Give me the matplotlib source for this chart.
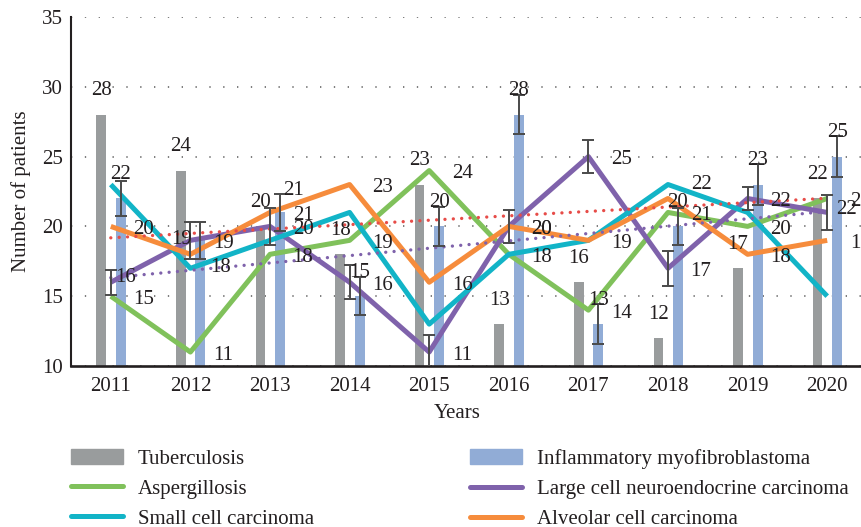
import numpy as np
import matplotlib.pyplot as plt
from matplotlib.lines import Line2D
from matplotlib.patches import Patch

plt.rcParams['font.family'] = ['Liberation Serif', 'DejaVu Serif']
plt.rcParams['font.size'] = 15

# -----------------------------
# Data
# -----------------------------
years = ['2011', '2012', '2013', '2014', '2015', '2016', '2017', '2018', '2019', '2020']

tuberculosis = [28, 24, 20, 18, 23, 13, 16, 12, 17, 22]
myofibroblastoma = [22, 19, 21, 15, 20, 28, 13, 20, 23, 25]
aspergillosis = [15, 11, 18, 19, 24, 18, 14, 21, 20, 22]
large_cell = [16, 19, 20, 16, 11, 20, 25, 17, 22, 21]
small_cell = [23, 17, 19, 21, 13, 18, 19, 23, 21, 15]
alveolar = [20, 18, 21, 23, 16, 20, 19, 22, 18, 19]

myo_err = [1.25, 1.3, 1.35, 1.35, 1.4, 1.4, 1.45, 1.35, 1.45, 1.45]
large_err = [0.9, 1.3, 1.3, 1.2, 1.25, 1.2, 1.2, 1.25, 0.8, 1.25]

large_labels = ['16', '19', '20', '16', '11', '20', '25', '17', '22', '22']

grey = '#999c9d'
blue = '#91acd6'
green = '#80c15b'
purple = '#7f62ab'
cyan = '#12b4c7'
orange = '#f68c3c'
red = '#e74c48'
err_col = '#4a4a4a'

x = np.arange(len(years))

fig = plt.figure(figsize=(8.61, 5.27), dpi=100)
ax = fig.add_axes([71 / 861, (527 - 366) / 527, (867 - 71) / 861, (366 - 17) / 527])

# bars
ax.bar(x - 0.12, tuberculosis, width=0.12, color=grey, zorder=1)
ax.bar(x + 0.125, myofibroblastoma, width=0.125, color=blue, zorder=1)

# lines
line_kw = dict(linewidth=3.6, solid_joinstyle='round', solid_capstyle='butt')
ax.plot(x, aspergillosis, color=green, zorder=3, **line_kw)
ax.plot(x, large_cell, color=purple, zorder=3, **line_kw)
ax.plot(x, small_cell, color=cyan, zorder=3, **line_kw)
ax.plot(x, alveolar, color=orange, zorder=3, **line_kw)

# linear trendlines
dot_kw = dict(linewidth=2.4, linestyle=(0, (0.01, 2.5)), dash_capstyle='round', zorder=4)
fit_myo = np.polyfit(x, myofibroblastoma, 1)
ax.plot(x, np.polyval(fit_myo, x), color=red, **dot_kw)
fit_large = np.polyfit(x, large_cell, 1)
ax.plot(x, np.polyval(fit_large, x), color=purple, **dot_kw)

# error bars
err_kw = dict(fmt='none', ecolor=err_col, elinewidth=1.4, capsize=4, capthick=1.4, zorder=5)
ax.errorbar(x + 0.125, myofibroblastoma, yerr=myo_err, **err_kw)
ax.errorbar(x, large_cell, yerr=large_err, **err_kw)

# data labels
def label(xv, yv, text, dx, dy):
    ax.annotate(text, (xv, yv), xytext=(dx, dy), textcoords='offset pixels',
                ha='center', va='center', fontsize=15, color='#231f20',
                annotation_clip=False, zorder=6)

for i in x:
    label(i - 0.12, tuberculosis[i], str(tuberculosis[i]), 0, 24)
    if i == 1:
        label(i + 0.125, myofibroblastoma[i], str(myofibroblastoma[i]), -19, 1)
    elif i == 2:
        label(i + 0.125, myofibroblastoma[i], str(myofibroblastoma[i]), 14, 22)
    else:
        label(i + 0.125, myofibroblastoma[i], str(myofibroblastoma[i]), 0, 24)
    label(i, aspergillosis[i], str(aspergillosis[i]), 33, -3)
    if i == 0:
        label(i, large_cell[i], large_labels[i], 15, 5)
    elif i == 9:
        label(i, large_cell[i], large_labels[i], 19, 3)
    else:
        label(i, large_cell[i], large_labels[i], 33, -3)
    if i == 1:
        label(i, alveolar[i], str(alveolar[i]), 30, -13)
    elif i == 7:
        label(i, alveolar[i], str(alveolar[i]), 33, 14)
    else:
        label(i, alveolar[i], str(alveolar[i]), 33, -3)

# axes styling
ax.set_xlim(-0.5, 9.5)
ax.set_ylim(10, 35)
ax.set_yticks([10, 15, 20, 25, 30, 35])
ax.set_xticks(x)
ax.set_xticklabels(years)
ax.tick_params(axis='both', length=0, labelsize=15, colors='#231f20')
ax.tick_params(axis='x', pad=8)
ax.tick_params(axis='y', pad=6)
ax.yaxis.grid(True, color='#666666', linewidth=1.2, linestyle=(0, (0.8, 7.5)))
ax.set_axisbelow(True)
for s in ['top', 'right']:
    ax.spines[s].set_visible(False)
ax.spines['left'].set_linewidth(1.5)
ax.spines['bottom'].set_linewidth(1.9)
ax.spines['left'].set_color('#231f20')
ax.spines['bottom'].set_color('#231f20')

ax.set_ylabel('Number of patients', fontsize=15, color='#231f20', labelpad=8)
fig.text(457 / 861, 1 - 414 / 527, 'Years', ha='center', va='center', fontsize=15, color='#231f20')

# legend
leg_kw = dict(frameon=False, fontsize=15, handlelength=2.5, handleheight=0.7,
              handletextpad=0.72, labelspacing=0.5, borderpad=0, borderaxespad=0,
              loc='upper left', labelcolor='#231f20')
h1 = [Patch(color=grey), Line2D([], [], color=green, linewidth=3.6, solid_capstyle='round'),
      Line2D([], [], color=cyan, linewidth=3.6, solid_capstyle='round')]
h2 = [Patch(color=blue), Line2D([], [], color=purple, linewidth=3.6, solid_capstyle='round'),
      Line2D([], [], color=orange, linewidth=3.6, solid_capstyle='round')]
fig.legend(h1, ['Tuberculosis', 'Aspergillosis', 'Small cell carcinoma'],
           bbox_to_anchor=(71 / 861, 1 - 449 / 527), **leg_kw)
fig.legend(h2, ['Inflammatory myofibroblastoma', 'Large cell neuroendocrine carcinoma',
                'Alveolar cell carcinoma'],
           bbox_to_anchor=(470 / 861, 1 - 449 / 527), **leg_kw)

fig.savefig('out.png', dpi=100)
